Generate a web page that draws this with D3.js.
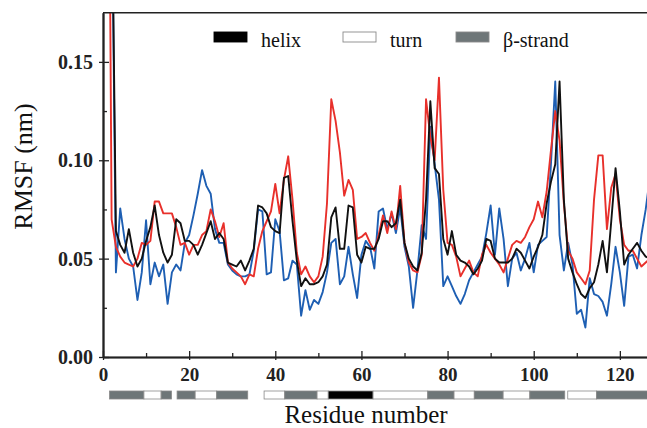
<!DOCTYPE html>
<html><head><meta charset="utf-8">
<script src="https://cdn.jsdelivr.net/npm/d3@7"></script>
<style>html,body{margin:0;padding:0;background:#fff;}svg{display:block;}</style>
</head><body>
<svg id="c" width="647" height="428"></svg>
<script>
// Residue numbers 1..127
const residues = d3.range(1, 128);
// RMSF (nm) series
const blackSeries = [0.30,0.25,0.064,0.057,0.053,0.065,0.053,0.046,0.050,0.059,0.066,0.077,0.062,0.053,0.048,0.052,0.070,0.068,0.059,0.059,
0.057,0.052,0.057,0.063,0.069,0.060,0.063,0.060,0.048,0.047,0.046,0.049,0.044,0.049,0.055,0.077,0.076,0.073,0.066,0.064,
0.063,0.091,0.092,0.069,0.049,0.036,0.040,0.037,0.037,0.038,0.041,0.047,0.071,0.076,0.055,0.055,0.077,0.076,0.052,0.048,
0.056,0.055,0.055,0.060,0.069,0.069,0.066,0.068,0.080,0.058,0.050,0.046,0.044,0.053,0.080,0.130,0.096,0.093,0.060,0.052,
0.064,0.052,0.049,0.048,0.046,0.042,0.045,0.049,0.060,0.059,0.050,0.048,0.048,0.048,0.050,0.055,0.053,0.049,0.045,0.051,
0.056,0.062,0.078,0.089,0.098,0.140,0.080,0.050,0.043,0.037,0.032,0.030,0.035,0.038,0.047,0.059,0.043,0.069,0.096,0.074,
0.047,0.052,0.055,0.058,0.054,0.051,0.050];
const redSeries = [0.40,0.070,0.056,0.051,0.048,0.047,0.046,0.050,0.058,0.057,0.059,0.079,0.079,0.073,0.073,0.073,0.066,0.057,0.058,0.052,
0.057,0.057,0.062,0.064,0.075,0.069,0.061,0.068,0.048,0.045,0.043,0.041,0.037,0.042,0.041,0.055,0.064,0.069,0.074,0.088,
0.073,0.090,0.102,0.080,0.053,0.042,0.046,0.041,0.038,0.041,0.051,0.078,0.131,0.120,0.104,0.082,0.090,0.085,0.060,0.061,
0.063,0.058,0.054,0.062,0.072,0.063,0.074,0.065,0.087,0.058,0.048,0.044,0.043,0.052,0.131,0.112,0.100,0.142,0.085,0.058,
0.057,0.051,0.041,0.045,0.049,0.043,0.041,0.052,0.057,0.053,0.050,0.047,0.043,0.050,0.057,0.059,0.058,0.061,0.066,0.070,
0.079,0.071,0.084,0.105,0.125,0.110,0.078,0.054,0.050,0.043,0.040,0.037,0.044,0.080,0.1025,0.1025,0.065,0.086,0.093,0.070,
0.057,0.054,0.054,0.050,0.046,0.048,0.050];
const blueSeries = [0.30,0.25,0.043,0.0755,0.060,0.050,0.046,0.029,0.043,0.0695,0.037,0.048,0.041,0.047,0.027,0.043,0.047,0.044,0.058,0.062,
0.072,0.083,0.095,0.087,0.083,0.065,0.058,0.058,0.047,0.044,0.042,0.041,0.041,0.042,0.054,0.075,0.074,0.042,0.043,0.070,
0.064,0.039,0.040,0.049,0.047,0.021,0.034,0.024,0.029,0.027,0.033,0.043,0.058,0.060,0.037,0.041,0.056,0.042,0.030,0.052,
0.059,0.056,0.045,0.074,0.0755,0.065,0.073,0.063,0.076,0.056,0.046,0.025,0.044,0.067,0.060,0.117,0.098,0.080,0.036,0.041,
0.036,0.031,0.027,0.032,0.039,0.043,0.047,0.051,0.063,0.077,0.052,0.0755,0.060,0.036,0.050,0.053,0.044,0.050,0.058,0.043,
0.057,0.059,0.061,0.098,0.140,0.062,0.044,0.058,0.047,0.022,0.024,0.015,0.040,0.032,0.031,0.028,0.021,0.037,0.056,0.043,
0.026,0.051,0.052,0.045,0.062,0.075,0.092];
// Tick values
const xMajorTicks = [0,20,40,60,80,100,120];
const xMinorTicks = [10,30,50,70,90,110];
const yMajorTicks = [0,0.05,0.10,0.15];
const yMinorTicks = [0.025,0.075,0.125];
// Secondary structure segments (residue start, residue end, type)
const ssStart = [1.5,9.5,13.5,17.2,21.4,26.4,37.4,42.2,49.7,52.3,62.7,75.4,81.5,86.2,92.9,99.1,107.9,114.6];
const ssEnd   = [9.5,13.5,15.9,21.4,26.4,33.6,42.2,49.7,52.3,62.7,75.4,81.5,86.2,92.9,99.1,107.2,114.6,127];
const ssType  = ["strand","turn","strand","strand","turn","strand","turn","strand","turn","helix","turn","strand","turn","strand","turn","strand","turn","strand"];
const legendKeys = ["helix","turn","strand"];
const legendLabels = ["helix","turn","β-strand"];

const ssFill = {helix:"#000000", turn:"#ffffff", strand:"#6e7678"};
const seriesColors = ["#1e5fb3","#e8302b","#111111"];

const svg = d3.select("#c");
const L = 103, R = 647, T = 12.7, B = 357;
const x = d3.scaleLinear().domain([0, 126.3]).range([L, R]);
const y = d3.scaleLinear().domain([0, 0.175]).range([B, T]);

svg.append("defs").append("clipPath").attr("id","clip")
  .append("rect").attr("x",L).attr("y",T).attr("width",R-L).attr("height",B-T);

const line = d3.line().x((d,i)=>x(residues[i])).y(d=>y(d));
const g = svg.append("g").attr("clip-path","url(#clip)");
[blueSeries, redSeries, blackSeries].forEach((s,i)=>{
  g.append("path").datum(s).attr("d", line).attr("fill","none")
   .attr("stroke", seriesColors[i]).attr("stroke-width",1.9).attr("stroke-linejoin","round");
});

const font = "'Liberation Serif','Times New Roman',serif";
// Y axis
const yAx = svg.append("g").attr("transform",`translate(${L},0)`)
  .call(d3.axisLeft(y).tickValues(yMajorTicks).tickFormat(d3.format(".2f")).tickSizeInner(4).tickSizeOuter(0).tickPadding(6));
yAx.selectAll("text").attr("font-family",font).attr("font-weight","bold").attr("font-size",20).attr("fill","#222");
svg.append("g").attr("transform",`translate(${L},0)`)
  .call(d3.axisLeft(y).tickValues(yMajorTicks).tickFormat("").tickSizeInner(-6).tickSizeOuter(0));
svg.append("g").attr("transform",`translate(${L},0)`)
  .call(d3.axisLeft(y).tickValues(yMinorTicks).tickFormat("").tickSizeInner(-4).tickSizeOuter(0));
// X axis
const xAx = svg.append("g").attr("transform",`translate(0,${B})`)
  .call(d3.axisBottom(x).tickValues(xMajorTicks).tickFormat(d3.format("d")).tickSizeInner(3).tickSizeOuter(0).tickPadding(8));
xAx.selectAll("text").attr("font-family",font).attr("font-weight","bold").attr("font-size",19).attr("fill","#222");
svg.append("g").attr("transform",`translate(0,${B})`)
  .call(d3.axisBottom(x).tickValues(xMajorTicks).tickFormat("").tickSizeInner(-6).tickSizeOuter(0));
svg.append("g").attr("transform",`translate(0,${B})`)
  .call(d3.axisBottom(x).tickValues(xMinorTicks).tickFormat("").tickSizeInner(-4).tickSizeOuter(0));
svg.selectAll(".domain").attr("stroke","#222").attr("stroke-width",1.6);
svg.selectAll(".tick line").attr("stroke","#222").attr("stroke-width",1.3);
// top border
svg.append("line").attr("x1",L).attr("x2",R).attr("y1",T).attr("y2",T).attr("stroke","#222").attr("stroke-width",1.4);

// Secondary structure bar
svg.append("g").selectAll("rect").data(ssType).join("rect")
  .attr("x",(d,i)=>x(ssStart[i])).attr("width",(d,i)=>x(ssEnd[i])-x(ssStart[i]))
  .attr("y",391).attr("height",8)
  .attr("fill",d=>ssFill[d]).attr("stroke","#8a8a8a").attr("stroke-width",0.8);

// Legend
const legX = [214,343,456];
const lg = svg.append("g");
legendKeys.forEach((k,i)=>{
  lg.append("rect").attr("x",legX[i]).attr("y",32).attr("width",33).attr("height",10)
    .attr("fill",ssFill[k]).attr("stroke", k==="helix"?"#000":"#8a8a8a").attr("stroke-width",0.9);
  lg.append("text").attr("x",legX[i]+47).attr("y",46.5).text(legendLabels[i])
    .attr("font-family",font).attr("font-size",20).attr("fill","#111");
});

// Axis titles
svg.append("text").attr("x",366).attr("y",423).attr("text-anchor","middle")
  .attr("font-family",font).attr("font-size",25).attr("fill","#111").text("Residue number");
svg.append("text").attr("transform","translate(32,166.5) rotate(-90)").attr("text-anchor","middle")
  .attr("font-family",font).attr("font-size",26).attr("fill","#111").text("RMSF (nm)");
</script>
</body></html>
